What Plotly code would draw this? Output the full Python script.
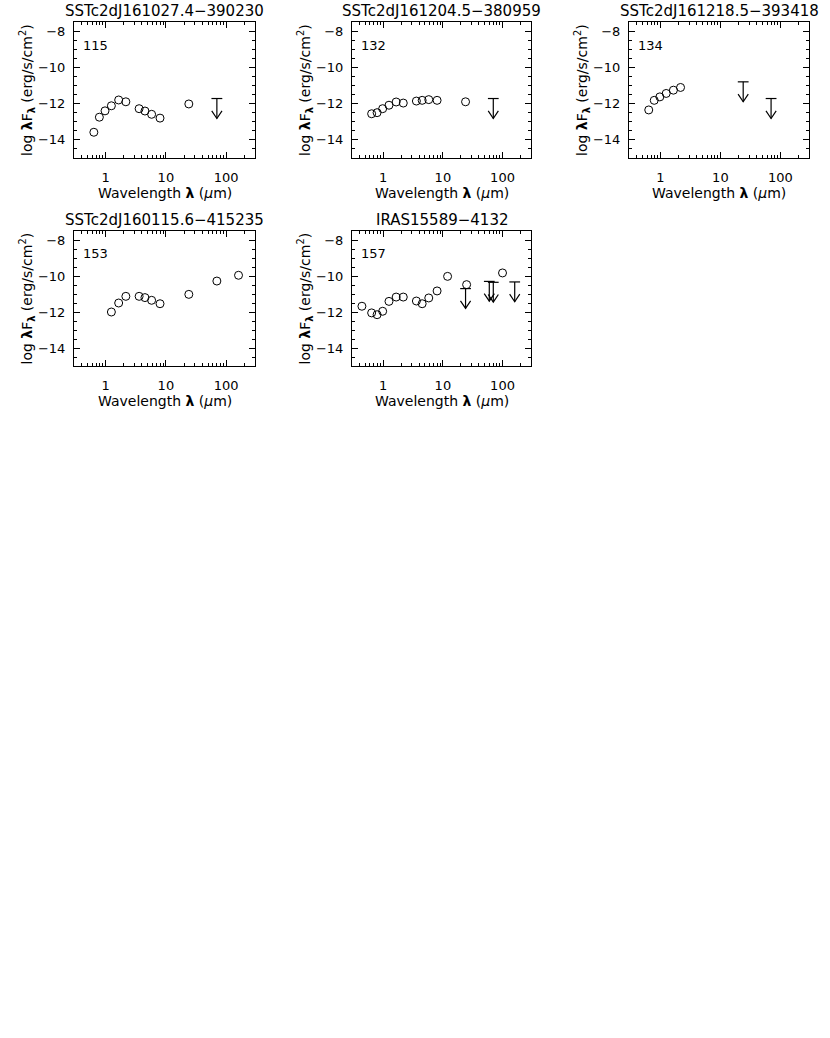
"""Spectral energy distributions of five sources, recreated with Plotly."""

import math
import plotly.graph_objects as go
from plotly.subplots import make_subplots

# ---- data -------------------------------------------------------------
names = ["SSTc2dJ161027.4\u2212390230", "SSTc2dJ161204.5\u2212380959",
         "SSTc2dJ161218.5\u2212393418", "SSTc2dJ160115.6\u2212415235",
         "IRAS15589\u22124132"]
ids = ["115", "132", "134", "153", "157"]

lam_115 = [0.64, 0.79, 0.98, 1.25, 1.65, 2.17, 3.6, 4.5, 5.8, 8.0, 24]
flux_115 = [-13.58, -12.75, -12.4, -12.12, -11.8, -11.9, -12.28, -12.41, -12.59, -12.8, -12.02]
lim_lam_115 = [70]
lim_flux_115 = [-11.72]

lam_132 = [0.64, 0.79, 0.98, 1.25, 1.65, 2.17, 3.6, 4.5, 5.8, 8.0, 24]
flux_132 = [-12.56, -12.5, -12.28, -12.09, -11.91, -11.97, -11.86, -11.82, -11.78, -11.82, -11.9]
lim_lam_132 = [70]
lim_flux_132 = [-11.72]

lam_134 = [0.64, 0.79, 0.98, 1.25, 1.65, 2.17]
flux_134 = [-12.35, -11.82, -11.63, -11.44, -11.26, -11.11]
lim_lam_134 = [24, 70]
lim_flux_134 = [-10.8, -11.72]

lam_153 = [1.25, 1.65, 2.17, 3.6, 4.5, 5.8, 8.0, 24, 70, 160]
flux_153 = [-12.0, -11.5, -11.13, -11.13, -11.2, -11.35, -11.54, -11.02, -10.28, -9.96]
lim_lam_153 = []
lim_flux_153 = []

lam_157 = [0.44, 0.64, 0.79, 0.98, 1.25, 1.65, 2.17, 3.6, 4.5, 5.8, 8.0, 12, 25, 100]
flux_157 = [-11.68, -12.05, -12.15, -11.96, -11.41, -11.17, -11.17, -11.39, -11.54, -11.22,
            -10.83, -10.02, -10.48, -9.83]
lim_lam_157 = [24, 60, 70, 160]
lim_flux_157 = [-10.7, -10.3, -10.35, -10.33]

x_ticks = [1, 10, 100]
y_ticks = [-14, -12, -10, -8]

panels = [
    (lam_115, flux_115, lim_lam_115, lim_flux_115),
    (lam_132, flux_132, lim_lam_132, lim_flux_132),
    (lam_134, flux_134, lim_lam_134, lim_flux_134),
    (lam_153, flux_153, lim_lam_153, lim_flux_153),
    (lam_157, flux_157, lim_lam_157, lim_flux_157),
]

# ---- layout geometry (window pixels) ----------------------------------
W, H = 830, 1030
col_px = [(74, 255), (352, 531), (629, 809)]
row_px = [(22, 158), (231, 366)]
FONT = "DejaVu Sans"

fig = make_subplots(rows=2, cols=3, specs=[[{}, {}, {}], [{}, {}, None]])

arrow_len = 1.1     # length of the upper-limit arrows, in dex
head_h = 0.42       # arrow head height, dex
head_w = 0.085      # arrow head half width, decades
cap_w = 0.09        # cap half width, decades

minor_x = [m * 10 ** e for e in (-1, 0, 1, 2) for m in range(2, 10)]

for i, (lam, flux, llam, lflux) in enumerate(panels):
    row, col = i // 3 + 1, i % 3 + 1
    fig.add_trace(go.Scatter(
        x=lam, y=flux, mode="markers",
        marker=dict(symbol="circle-open", size=8, color="black", line=dict(width=1)),
        showlegend=False, hoverinfo="x+y",
    ), row=row, col=col)

    # upper limits: cap, shaft and open arrow head
    ux, uy = [], []
    for lx, ly in zip(llam, lflux):
        tip = ly - arrow_len
        ux += [lx * 10 ** -cap_w, lx * 10 ** cap_w, None,
               lx, lx, None,
               lx * 10 ** -head_w, lx, lx * 10 ** head_w, None]
        uy += [ly, ly, None,
               ly, tip, None,
               tip + head_h, tip, tip + head_h, None]
    if ux:
        fig.add_trace(go.Scatter(
            x=ux, y=uy, mode="lines", line=dict(color="black", width=1.2),
            showlegend=False, hoverinfo="skip",
        ), row=row, col=col)

    x0, x1 = col_px[col - 1]
    y0, y1 = row_px[row - 1]
    ax = "" if i == 0 else str(i + 1)
    fig.layout["xaxis" + ax].update(
        domain=[x0 / W, x1 / W], type="log", automargin=False,
        range=[math.log10(0.3), math.log10(300)],
        tickvals=x_ticks, ticktext=[str(v) for v in x_ticks],
        ticks="inside", ticklen=6, tickcolor="black",
        minor=dict(tickvals=minor_x, ticks="inside", ticklen=3, tickcolor="black"),
        showline=True, linecolor="black", linewidth=1, mirror="allticks",
        showgrid=False, zeroline=False, ticklabelstandoff=7,
        tickfont=dict(family=FONT, size=13, color="black"),
    )
    fig.layout["yaxis" + ax].update(
        domain=[1 - y1 / H, 1 - y0 / H], range=[-15, -7.5], automargin=False,
        tickvals=y_ticks, ticks="inside", ticklen=6, tickcolor="black",
        minor=dict(dtick=0.5, ticks="inside", ticklen=3, tickcolor="black"),
        showline=True, linecolor="black", linewidth=1, mirror="allticks",
        showgrid=False, zeroline=False, ticklabelstandoff=5,
        tickfont=dict(family=FONT, size=13, color="black"),
    )

    xd, yd = "x" + ax + " domain", "y" + ax + " domain"
    box_h = y1 - y0
    # title above each panel
    fig.add_annotation(xref=xd, yref=yd, x=0.5, y=1 + 10.5 / box_h,
                       text=names[i], showarrow=False, xanchor="center", yanchor="middle",
                       font=dict(family=FONT, size=15, color="black"))
    # source number in the top-left corner
    fig.add_annotation(xref=xd, yref=yd, x=0.04, y=1 - 23 / box_h,
                       text=ids[i], showarrow=False, xanchor="left", yanchor="middle",
                       font=dict(family=FONT, size=13, color="black"))
    # x axis title
    fig.add_annotation(xref=xd, yref=yd, x=0.5, y=-35 / box_h,
                       text="Wavelength <b>\u03bb</b> (<i>\u03bc</i>m)", showarrow=False,
                       xanchor="center", yanchor="middle",
                       font=dict(family=FONT, size=14, color="black"))
    # y axis title
    fig.add_annotation(xref="paper", yref=yd, x=(x0 - 47) / W, y=0.5,
                       text="log <b>\u03bb</b>F<sub><b>\u03bb</b></sub> (erg/s/cm<sup>2</sup>)",
                       showarrow=False, textangle=-90, xanchor="center", yanchor="middle",
                       font=dict(family=FONT, size=14, color="black"))

fig.update_layout(
    width=W, height=H,
    margin=dict(l=0, r=0, t=0, b=0),
    plot_bgcolor="white", paper_bgcolor="white",
    showlegend=False,
)

# drop the default 8px page margin so the figure sits at the window corner
fig.write_html("out.html", config={"displayModeBar": False},
               post_script="document.body.style.margin = '0';")
